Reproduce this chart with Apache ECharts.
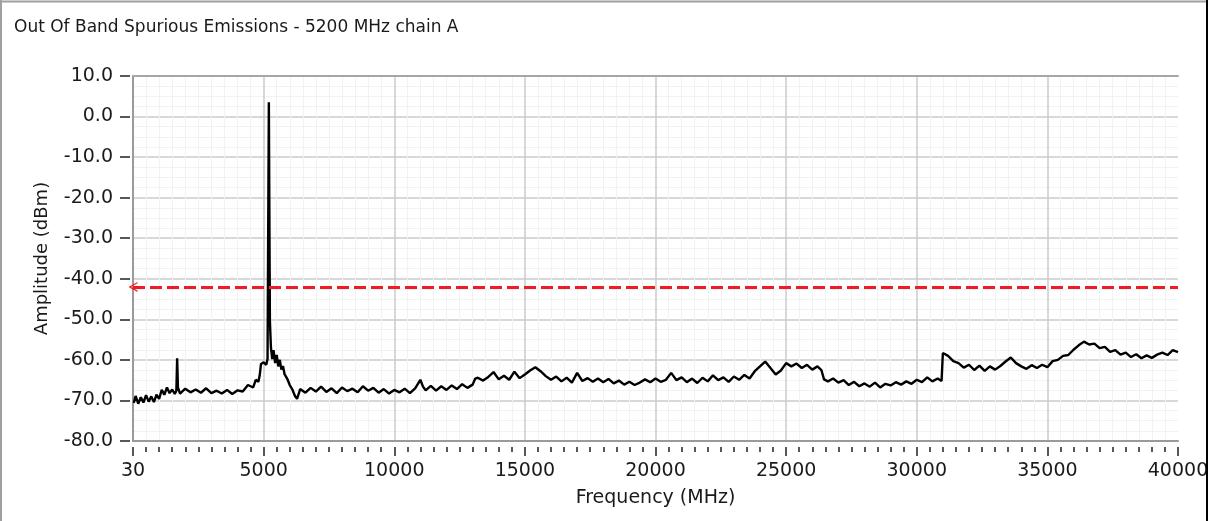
<!DOCTYPE html>
<html>
<head>
<meta charset="utf-8">
<script src="https://cdn.jsdelivr.net/npm/echarts@6/dist/echarts.min.js"></script>
<style>
html,body{margin:0;padding:0;background:#fff;}
#chart{width:1216px;height:521px;}
</style>
</head>
<body>
<div id="chart"></div>
<script>
// ---- data ----
const chartTitle = 'Out Of Band Spurious Emissions - 5200 MHz chain A';
const xAxisName = 'Frequency (MHz)';
const yAxisName = 'Amplitude (dBm)';
const xTickLabels = ['30','5000','10000','15000','20000','25000','30000','35000','40000'];
const limitLineDbm = -42;

const freqMHz = [
  30,100,200,300,400,500,600,700,800,900,
  1000,1100,1200,1300,1400,1500,1600,1660,1690,1720,
  1800,2000,2200,2400,2600,2800,3000,3200,3400,3600,
  3800,4000,4200,4400,4600,4700,4800,4850,4900,5000,
  5100,5150,5200,5240,5280,5330,5380,5440,5500,5560,
  5620,5680,5740,5800,5900,6000,6100,6200,6280,6400,
  6600,6800,7000,7200,7400,7600,7800,8000,8200,8400,
  8600,8800,9000,9200,9400,9600,9800,10000,10200,10400,
  10600,10800,11000,11100,11200,11400,11600,11800,12000,12200,
  12400,12600,12800,13000,13100,13200,13400,13600,13800,14000,
  14200,14400,14600,14800,15000,15200,15400,15600,15800,16000,
  16200,16400,16600,16800,17000,17200,17400,17600,17800,18000,
  18200,18400,18600,18800,19000,19200,19400,19600,19800,20000,
  20200,20400,20600,20800,21000,21200,21400,21600,21800,22000,
  22200,22400,22600,22800,23000,23200,23400,23600,23800,24000,
  24200,24400,24600,24800,25000,25200,25400,25600,25800,26000,
  26200,26350,26450,26600,26800,27000,27200,27400,27600,27800,
  28000,28200,28400,28600,28800,29000,29200,29400,29600,29800,
  30000,30200,30400,30600,30800,30950,31000,31200,31400,31600,
  31800,32000,32200,32400,32600,32800,33000,33200,33400,33600,
  33800,34000,34200,34400,34600,34800,35000,35200,35400,35600,
  35800,36000,36200,36400,36600,36800,37000,37200,37400,37600,
  37800,38000,38200,38400,38600,38800,39000,39200,39400,39600,
  39800,40000
];

const ampDbm = [
  -70.6,-68.9,-70.8,-69.2,-70.5,-68.7,-70.3,-69.0,-70.4,-68.6,
  -69.6,-67.4,-68.6,-66.8,-68.2,-67.3,-68.4,-67.6,-59.6,-66.8,
  -68.3,-67.1,-68.0,-67.3,-68.1,-67.0,-68.2,-67.6,-68.3,-67.4,
  -68.4,-67.5,-67.8,-66.2,-66.8,-64.9,-65.4,-63.8,-61.0,-60.6,
  -61.2,-59.8,3.5,-50.4,-57.0,-59.8,-57.6,-60.8,-58.8,-61.6,
  -60.0,-62.4,-61.5,-63.5,-64.6,-66.2,-67.3,-68.9,-69.6,-67.2,
  -68.1,-66.9,-67.8,-66.6,-67.9,-67.0,-68.2,-66.8,-67.7,-67.1,
  -68.0,-66.5,-67.6,-66.9,-68.1,-67.2,-68.3,-67.4,-68.0,-67.1,
  -68.2,-67.0,-64.9,-66.6,-67.5,-66.4,-67.6,-66.5,-67.4,-66.3,
  -67.2,-66.0,-66.9,-66.1,-64.6,-64.4,-65.1,-64.2,-63.0,-64.8,
  -63.9,-64.9,-62.9,-64.5,-63.6,-62.6,-61.8,-62.8,-64.0,-64.9,
  -64.1,-65.3,-64.4,-65.6,-63.2,-65.2,-64.5,-65.4,-64.6,-65.5,
  -64.7,-65.8,-65.1,-66.1,-65.4,-66.2,-65.6,-64.8,-65.5,-64.6,
  -65.4,-64.9,-63.2,-65.0,-64.3,-65.5,-64.6,-65.7,-64.4,-65.3,
  -63.8,-65.0,-64.3,-65.4,-64.1,-64.9,-63.7,-64.6,-62.8,-61.6,
  -60.4,-62.0,-63.6,-62.6,-60.8,-61.6,-60.9,-62.0,-61.2,-62.4,
  -61.6,-62.5,-64.8,-65.3,-64.6,-65.6,-65.0,-66.2,-65.4,-66.5,
  -65.8,-66.6,-65.6,-66.8,-65.9,-66.3,-65.5,-66.1,-65.3,-65.9,
  -64.9,-65.5,-64.3,-65.3,-64.6,-65.2,-58.3,-59.0,-60.3,-60.8,
  -61.9,-61.2,-62.5,-61.4,-62.7,-61.6,-62.4,-61.5,-60.4,-59.4,
  -60.8,-61.6,-62.2,-61.3,-62.0,-61.2,-61.8,-60.3,-60.0,-59.0,
  -58.8,-57.5,-56.4,-55.5,-56.2,-56.0,-57.1,-56.8,-58.0,-57.6,
  -58.7,-58.2,-59.3,-58.6,-59.6,-58.9,-59.5,-58.7,-58.2,-58.8,
  -57.6,-58.1
];

// ---- chart ----
const FONT = 'DejaVu Sans';
const seriesData = freqMHz.map((f, i) => [f, ampDbm[i]]);
const chevron = 'path://M0,10 L5,0 L10,10 L8.6,10 L5,2.8 L1.4,10 Z';

const chart = echarts.init(document.getElementById('chart'), null, {renderer: 'canvas'});
chart.setOption({
  animation: false,
  backgroundColor: '#ffffff',
  title: {
    text: chartTitle, left: 9, top: 14,
    textStyle: {fontFamily: FONT, fontSize: 17, fontWeight: 'normal', color: '#1a1a1a'}
  },
  grid: {left: 133, right: 38, top: 76, bottom: 80, containLabel: false},
  xAxis: [
    {
      type: 'value', min: 0, max: 40000, interval: 5000,
      name: xAxisName, nameLocation: 'middle', nameGap: 48,
      nameTextStyle: {fontFamily: FONT, fontSize: 19, color: '#1a1a1a'},
      axisLine: {show: true, onZero: false, lineStyle: {color: '#9a9a9a', width: 2}},
      axisTick: {show: false},
      minorTick: {show: false, splitNumber: 10},
      axisLabel: {
        margin: 21, fontFamily: FONT, fontSize: 19, color: '#1a1a1a',
        formatter: v => xTickLabels[Math.round(v / 5000)]
      },
      splitLine: {show: true, showMinLine: false, showMaxLine: false, lineStyle: {color: '#cbcbcb', width: 1.5}},
      minorSplitLine: {show: true, lineStyle: {color: '#f2f2f2', width: 1}}
    },
    {
      type: 'value', min: 0, max: 40000, interval: 5000, position: 'bottom', offset: 6,
      axisLine: {show: false, onZero: false},
      axisTick: {show: true, length: 9, lineStyle: {color: '#222', width: 1.5}},
      minorTick: {show: true, splitNumber: 10, length: 5, lineStyle: {color: '#222', width: 1.5}},
      axisLabel: {show: false}, splitLine: {show: false}
    },
    {
      type: 'value', min: 0, max: 40000, position: 'top',
      axisLine: {show: true, onZero: false, lineStyle: {color: '#a6a6a6', width: 2}},
      axisTick: {show: false}, axisLabel: {show: false}, splitLine: {show: false}
    }
  ],
  yAxis: [
    {
      type: 'value', min: -80, max: 10, interval: 10,
      name: yAxisName, nameLocation: 'middle', nameGap: 82, nameRotate: 90,
      nameTextStyle: {fontFamily: FONT, fontSize: 18, color: '#1a1a1a'},
      axisLine: {show: true, onZero: false, lineStyle: {color: '#9a9a9a', width: 2}},
      axisTick: {show: false},
      minorTick: {show: false, splitNumber: 4},
      axisLabel: {
        margin: 20, fontFamily: FONT, fontSize: 19, color: '#1a1a1a',
        formatter: v => v.toFixed(1)
      },
      splitLine: {show: true, showMinLine: false, showMaxLine: false, lineStyle: {color: '#cbcbcb', width: 1.5}},
      minorSplitLine: {show: true, lineStyle: {color: '#f2f2f2', width: 1}}
    },
    {
      type: 'value', min: -80, max: 10, interval: 10, position: 'left', offset: 3,
      axisLine: {show: false, onZero: false},
      axisTick: {show: true, length: 10, lineStyle: {color: '#222', width: 1.5}},
      axisLabel: {show: false}, splitLine: {show: false}
    }
  ],
  series: [
    {
      type: 'line', xAxisIndex: 0, yAxisIndex: 0,
      data: seriesData, showSymbol: false, symbol: 'none',
      lineStyle: {color: '#000000', width: 2.4},
      z: 3,
      markLine: {
        silent: true, animation: false,
        symbol: [chevron, 'none'], symbolSize: [10, 9],
        label: {show: false},
        lineStyle: {color: '#f01c24', width: 3, type: [12, 5]},
        data: [{yAxis: limitLineDbm}]
      }
    }
  ],
  graphic: [
    {type: 'line', z: 100, shape: {x1: 0, y1: 1.5, x2: 1207, y2: 1.5}, style: {stroke: '#a0a0a0', lineWidth: 2}},
    {type: 'line', z: 100, shape: {x1: 1, y1: 0, x2: 1, y2: 521}, style: {stroke: '#a0a0a0', lineWidth: 2}},
    {type: 'line', z: 100, shape: {x1: 1207, y1: 0, x2: 1207, y2: 521}, style: {stroke: '#000000', lineWidth: 2}}
  ]
});
</script>
</body>
</html>
